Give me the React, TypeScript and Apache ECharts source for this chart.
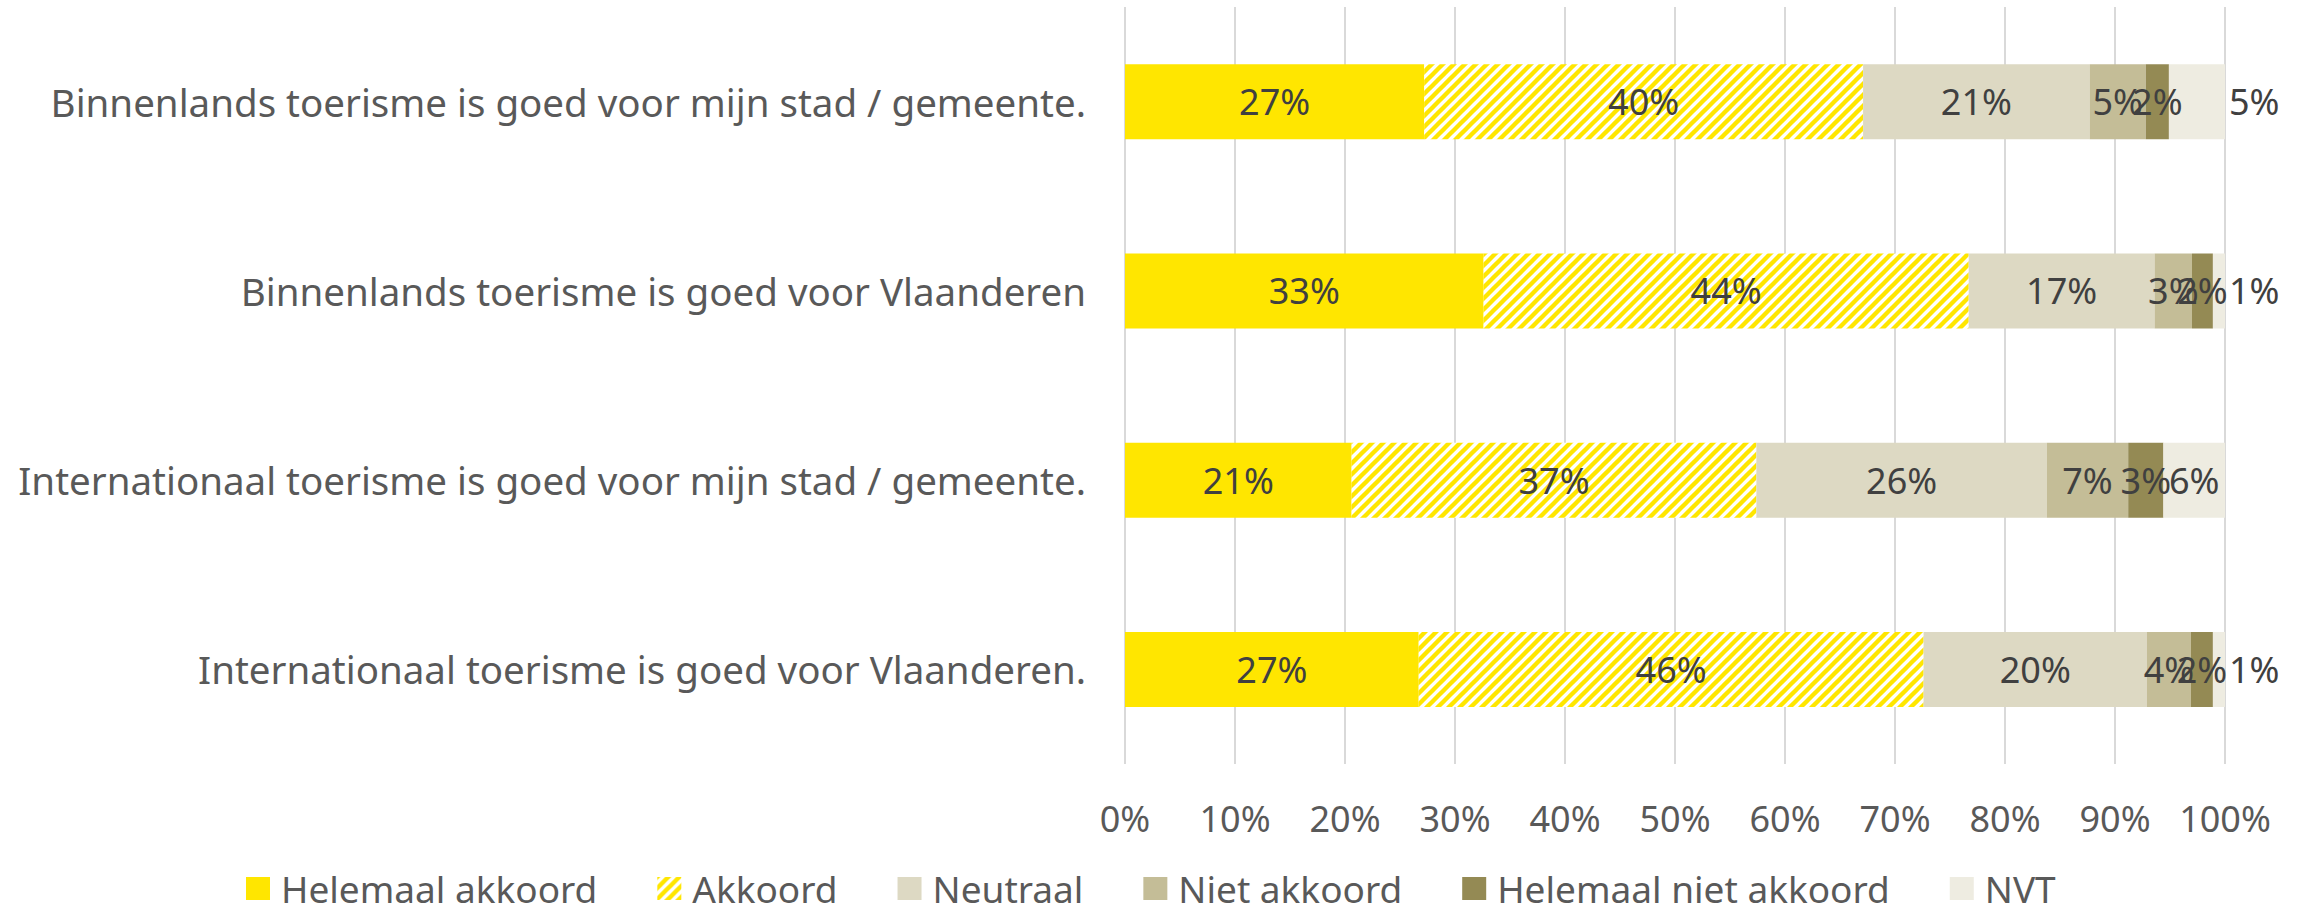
import React, { useEffect, useRef } from "react";
import * as echarts from "echarts";

const categories = [
  "Binnenlands toerisme is goed voor mijn stad / gemeente.",
  "Binnenlands toerisme is goed voor Vlaanderen",
  "Internationaal toerisme is goed voor mijn stad / gemeente.",
  "Internationaal toerisme is goed voor Vlaanderen.",
];

const seriesNames = [
  "Helemaal akkoord",
  "Akkoord",
  "Neutraal",
  "Niet akkoord",
  "Helemaal niet akkoord",
  "NVT",
];

const helemaalAkkoord = [27.2, 32.6, 20.6, 26.7];
const akkoord = [39.9, 44.1, 36.8, 45.9];
const neutraal = [20.6, 16.9, 26.4, 20.3];
const nietAkkoord = [5.1, 3.4, 7.4, 4.0];
const helemaalNietAkkoord = [2.1, 1.9, 3.2, 2.0];
const nvt = [5.1, 1.1, 5.6, 1.1];

const xMin = 0;
const xMax = 100;
const xInterval = 10;

function makeStripeCanvas(): HTMLCanvasElement {
  const s = 11;
  const c = document.createElement("canvas");
  c.width = s;
  c.height = s;
  const ctx = c.getContext("2d")!;
  ctx.fillStyle = "#ffffff";
  ctx.fillRect(0, 0, s, s);
  ctx.strokeStyle = "#FFE600";
  ctx.lineWidth = 4.4;
  for (let k = 0; k <= 2; k++) {
    ctx.beginPath();
    ctx.moveTo(k * s - s - 2, s + 2);
    ctx.lineTo(k * s + 2, -2);
    ctx.stroke();
  }
  return c;
}

export default function App() {
  const ref = useRef<HTMLDivElement>(null);

  useEffect(() => {
    if (!ref.current) return;
    const chart = echarts.init(ref.current, undefined, { renderer: "svg" });
    const font = "'Noto Sans', sans-serif";
    const stripe = { image: makeStripeCanvas(), repeat: "repeat" } as any;
    const colors: any[] = ["#FFE600", stripe, "#DDD9C3", "#C4BD97", "#948A54", "#EEECE1"];
    const values = [helemaalAkkoord, akkoord, neutraal, nietAkkoord, helemaalNietAkkoord, nvt];
    const nvtOutside = [true, true, false, true];

    const series = seriesNames.map((name, si) => ({
      name,
      type: "bar",
      stack: "total",
      barWidth: 75,
      itemStyle: { color: colors[si] },
      label: {
        show: true,
        position: "inside",
        color: "#404040",
        fontSize: 36,
        fontFamily: font,
        formatter: (p: any) => Math.round(p.value) + "%",
      },
      data: values[si].map((v, ci) =>
        si === 5 && nvtOutside[ci]
          ? { value: v, label: { position: "right", distance: 4 } }
          : v
      ),
    }));

    chart.setOption({
      animation: false,
      backgroundColor: "#ffffff",
      textStyle: { fontFamily: font },
      grid: { left: 1125, right: 96, top: 7, bottom: 148, containLabel: false },
      xAxis: {
        type: "value",
        min: xMin,
        max: xMax,
        interval: xInterval,
        axisLine: { show: false },
        axisTick: { show: false },
        splitLine: { show: true, lineStyle: { color: "#D9D9D9", width: 2 } },
        axisLabel: {
          formatter: "{value}%",
          color: "#595959",
          fontSize: 36,
          fontFamily: font,
          margin: 36,
        },
      },
      yAxis: {
        type: "category",
        data: categories,
        inverse: true,
        axisLine: { show: false },
        axisTick: { show: false },
        axisLabel: {
          color: "#595959",
          fontSize: 38.5,
          fontFamily: font,
          margin: 39,
        },
      },
      legend: {
        data: seriesNames,
        left: 241,
        top: 865,
        itemWidth: 24,
        itemHeight: 23,
        itemGap: 60,
        icon: "rect",
        textStyle: {
          color: "#595959",
          fontSize: 37,
          fontFamily: font,
          padding: [0, 0, 0, 6],
        },
      },
      series,
    } as any);

    return () => chart.dispose();
  }, []);

  return (
    <div
      ref={ref}
      style={{ position: "fixed", left: 0, top: 0, width: 2321, height: 912 }}
    />
  );
}
